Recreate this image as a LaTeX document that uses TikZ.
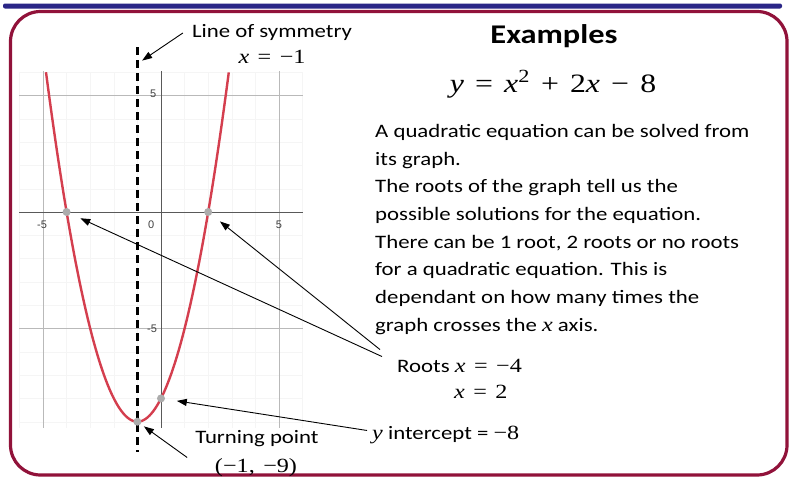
\documentclass[tikz,border=0pt]{standalone}
\usepackage{fontspec}
\setmainfont{Carlito}[FakeStretch=1.2]
\newfontfamily\tickfont{Liberation Sans}
\newfontfamily\eqfont{Liberation Serif}[FakeStretch=1.2,Scale=1.06]
\usetikzlibrary{arrows.meta, positioning, calc}
\definecolor{frameRed}{RGB}{145,18,58}
\definecolor{barBlue}{RGB}{42,38,135}
\definecolor{curveRed}{RGB}{212,62,78}
\definecolor{dotGrey}{RGB}{172,172,172}
\newcommand{\mv}[1]{\textit{#1}}
\newcommand{\gap}{\hspace{0.42em}}

\tikzset{
  lbl/.style={font=\fontsize{19}{23}\selectfont, inner sep=0pt},
  tick/.style={font=\tickfont\fontsize{11}{13}\selectfont, text=black!75, inner sep=1pt},
  ptr/.style={-{Triangle[length=10pt,width=7pt]}, line width=0.9pt},
  dot/.style={circle, fill=dotGrey, inner sep=0pt, minimum size=8pt},
}

\begin{document}
\begin{tikzpicture}[x=1pt, y=-1pt]
  \useasboundingbox (0,0) rectangle (789,477);
  \fill[white] (0,0) rectangle (789,477);
  \fill[barBlue, rounded corners=2pt] (3,3.5) rectangle (782,8.5);
  \draw[frameRed, line width=3.2pt, rounded corners=30pt] (10.5,11.5) rectangle (787,475);

  % graph of y = x^2 + 2x - 8
  \begin{scope}[shift={(161,212)}, x=23.6pt, y=23.3pt]
    \foreach \i in {-6,...,6} \draw[gray!8] (\i,-9.27) -- (\i,6);
    \foreach \j in {-9,...,6} \draw[gray!8] (-6,\j) -- (6,\j);
    \foreach \i in {-5,5} \draw[gray!55, line width=0.8pt] (\i,-9.27) -- (\i,6.05);
    \foreach \j in {-5,5} \draw[gray!55, line width=0.8pt] (-6,\j) -- (6,\j);
    \draw[black!65, line width=1pt] (-6,0) -- (6,0);
    \draw[black!65, line width=1pt] (0,-9.27) -- (0,6.05);
    \node[tick] (tickA) at (-5.04,-0.55) {-5};
    \node[tick] (tickB) at (-0.42,-0.55) {0};
    \node[tick] (tickC) at (5.0,-0.55) {5};
    \node[tick, anchor=east] (tickD) at (-0.15,5.06) {5};
    \node[tick, anchor=east] (tickE) at (-0.12,-5) {-5};
    \draw[black, line width=2.2pt, dash pattern=on 8pt off 5pt] (-1,7.08) -- (-1,-10.3);
    \draw[curveRed, line width=2.4pt] plot[domain=-4.873:2.873, samples=100, smooth] (\x,{\x*\x+2*\x-8});
    \node[dot] (rootA) at (-4,0) {};
    \node[dot] (rootB) at (2,0) {};
    \node[dot] (yint) at (0,-8) {};
    \node[dot] (vertex) at (-1,-9) {};
    \coordinate (symPt) at (-0.8,6.5);
  \end{scope}

  \node[lbl, anchor=base] (symLabel) at (272,37) {Line of symmetry};
  \node[lbl, anchor=base] (symEq) at (272,63) {\eqfont\mv{x}\gap=\gap−1};
  \node[font=\bfseries\fontsize{27}{32}\selectfont, anchor=base, inner sep=0pt] (title) at (554,43) {Examples};
  \node[anchor=base, inner sep=0pt, font=\eqfont\fontsize{25}{30}\selectfont] (eqn) at (553,92)
    {\mv{y}\gap=\gap\mv{x}\textsuperscript{2}\gap+\gap2\mv{x}\gap−\gap8};
  \node[anchor=north west, align=left, inner sep=0pt, font=\fontsize{19}{27.7}\selectfont] (para) at (375,124)
    {A quadratic equation can be solved from\\its graph.\\The roots of the graph tell us the\\possible solutions for the equation.\\There can be 1 root, 2 roots or no roots\\for a quadratic equation. This is\\dependant on how many times the\\graph crosses the {\eqfont\mv{x}} axis.};
  \node[lbl, anchor=base west] (roots) at (397,372) {Roots {\eqfont\mv{x}\gap=\gap−4}};
  \node[lbl, anchor=base west] (roots2) at (454,398) {\eqfont\mv{x}\gap=\gap2};
  \node[lbl, anchor=base west] (yLabel) at (372,439) {{\eqfont\mv{y}} intercept = {\eqfont−8}};
  \node[lbl, anchor=base] (turnLabel) at (257,443) {Turning point};
  \node[lbl, anchor=base] (turnCoord) at (256,472) {\eqfont(−1,\gap−9)};

  \draw[ptr] ($(symLabel.west)+(-9,1)$) -- (symPt);
  \draw[ptr, shorten >=15pt] ($(roots.north west)+(-15,-2)$) -- (rootA.center);
  \draw[ptr, shorten >=15pt] ($(roots.north west)+(-17,-9)$) -- (rootB.center);
  \draw[ptr, shorten >=16pt] ($(yLabel.west)+(-5,-4)$) -- (yint.center);
  \draw[ptr, shorten >=8pt] ($(turnLabel.south west)+(-8,11)$) -- (vertex.center);
\end{tikzpicture}
\end{document}
